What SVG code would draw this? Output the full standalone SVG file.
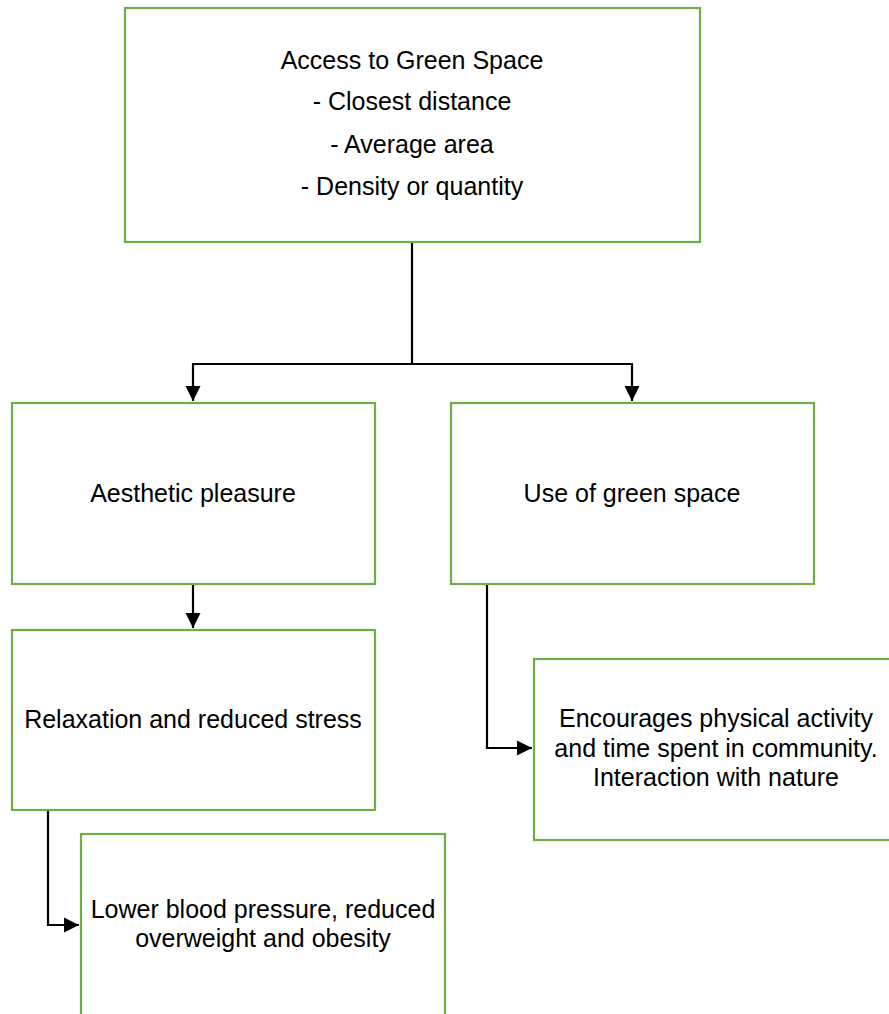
<svg xmlns="http://www.w3.org/2000/svg" width="889" height="1014" viewBox="0 0 889 1014">
  <style>
    .box { fill: #ffffff; stroke: #70AD47; stroke-width: 2.2; }
    .lbl { font-family: "Liberation Sans", Arial, sans-serif; font-size: 25px; fill: #000000; text-anchor: middle; }
    .wire { fill: none; stroke: #000000; stroke-width: 2.2; }
  </style>
  <defs>
    <marker id="arrow" viewBox="0 0 10 10" refX="10" refY="5" markerWidth="7" markerHeight="7" markerUnits="strokeWidth" orient="auto">
      <path d="M0,0 L10,5 L0,10 Z" fill="#000000"/>
    </marker>
  </defs>

  <rect width="889" height="1014" fill="#ffffff"/>

  <!-- connectors -->
  <g id="connectors">
    <path class="wire" d="M412,242 V364 H193 V401" marker-end="url(#arrow)"/>
    <path class="wire" d="M412,364 H632 V401" marker-end="url(#arrow)"/>
    <path class="wire" d="M193,584 V628" marker-end="url(#arrow)"/>
    <path class="wire" d="M487,584 V748 H532" marker-end="url(#arrow)"/>
    <path class="wire" d="M48,810 V925 H79" marker-end="url(#arrow)"/>
  </g>

  <g id="access">
    <rect class="box" x="125" y="8" width="575" height="234"/>
    <text class="lbl" x="412" y="69">Access to Green Space</text>
    <text class="lbl" x="412" y="110">- Closest distance</text>
    <text class="lbl" x="412" y="153">- Average area</text>
    <text class="lbl" x="412" y="195">- Density or quantity</text>
  </g>

  <g id="aesthetic">
    <rect class="box" x="12" y="403" width="363" height="181"/>
    <text class="lbl" x="193" y="502">Aesthetic pleasure</text>
  </g>

  <g id="use">
    <rect class="box" x="451" y="403" width="363" height="181"/>
    <text class="lbl" x="632" y="502">Use of green space</text>
  </g>

  <g id="relaxation">
    <rect class="box" x="12" y="630" width="363" height="180"/>
    <text class="lbl" x="193" y="728">Relaxation and reduced stress</text>
  </g>

  <g id="encourages">
    <rect class="box" x="534" y="659" width="360" height="181"/>
    <text class="lbl" x="716" y="727">Encourages physical activity</text>
    <text class="lbl" x="716" y="757">and time spent in community.</text>
    <text class="lbl" x="716" y="786">Interaction with nature</text>
  </g>

  <g id="lower">
    <rect class="box" x="81" y="834" width="364" height="200"/>
    <text class="lbl" x="263" y="918">Lower blood pressure, reduced</text>
    <text class="lbl" x="263" y="947">overweight and obesity</text>
  </g>
</svg>
